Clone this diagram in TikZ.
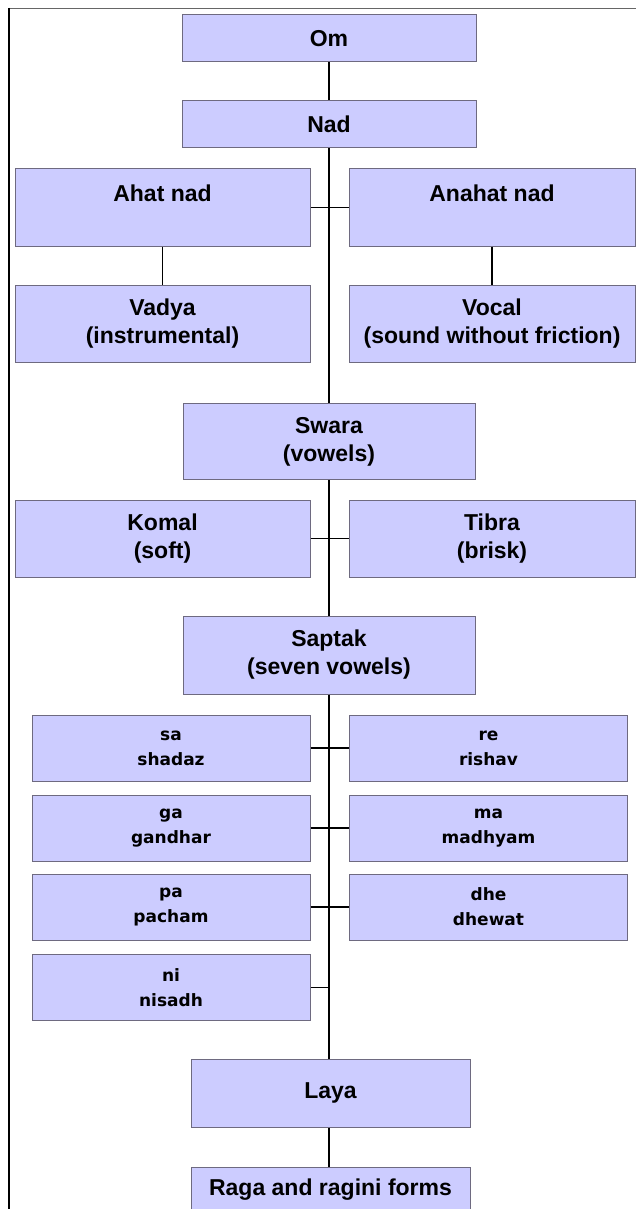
\documentclass[tikz,border=0pt]{standalone}
\usepackage{fontspec}
\setmainfont{Liberation Sans}
\newfontfamily\smallfam{DejaVu Sans}
\definecolor{boxfill}{HTML}{CCCCFF}
\definecolor{boxline}{HTML}{6E6A80}
\begin{document}
\begin{tikzpicture}[x=1pt,y=-1pt,
  bigbox/.style={draw=boxline,line width=1pt,fill=boxfill,inner sep=0pt,align=center,
    font=\fontsize{23}{28}\selectfont\bfseries},
  smallbox/.style={draw=boxline,line width=1pt,fill=boxfill,inner sep=0pt,align=center,
    minimum width=278pt,minimum height=66pt,font=\smallfam\fontsize{17}{25}\selectfont\bfseries},
  link/.style={draw=black,line width=1.2pt}]
\useasboundingbox (0,0) rectangle (635,1209);
\draw[line width=1.5pt,draw=black!60] (8,8.5) -- (640,8.5);
\draw[line width=1.5pt,draw=black] (9,8) -- (9,1215);

\node[bigbox,minimum width=294pt,minimum height=47pt] (om) at (329,38.5) {Om};
\node[bigbox,minimum width=294pt,minimum height=47pt] (nad) at (329,124.5) {Nad};
\node[bigbox,minimum width=295pt,minimum height=77pt] (ahat) at (162.5,207.5) {Ahat nad\\~};
\node[bigbox,minimum width=286pt,minimum height=77pt] (anahat) at (492,207.5) {Anahat nad\\~};
\node[bigbox,minimum width=295pt,minimum height=77pt] (vadya) at (162.5,323.5) {Vadya\\(instrumental)};
\node[bigbox,minimum width=286pt,minimum height=77pt] (vocal) at (492,323.5) {Vocal\\(sound without friction)};
\node[bigbox,minimum width=292pt,minimum height=76pt] (swara) at (329,441.5) {Swara\\(vowels)};
\node[bigbox,minimum width=295pt,minimum height=77pt] (komal) at (162.5,538.5) {Komal\\(soft)};
\node[bigbox,minimum width=286pt,minimum height=77pt] (tibra) at (492,538.5) {Tibra\\(brisk)};
\node[bigbox,minimum width=292pt,minimum height=78pt] (saptak) at (329,655) {Saptak\\(seven vowels)};

\node[smallbox] (sa) at (171,748) {sa\\shadaz};
\node[smallbox] (re) at (488.5,748) {re\\rishav};
\node[smallbox] (ga) at (171,828) {ga\\gandhar};
\node[smallbox] (ma) at (488.5,828) {ma\\madhyam};
\node[smallbox] (pa) at (171,907) {pa\\pacham};
\node[smallbox] (dhe) at (488.5,907) {dhe\\dhewat};
\node[smallbox] (ni) at (171,987.5) {ni\\nisadh};

\node[bigbox,minimum width=279pt,minimum height=68pt] (laya) at (330.5,1093) {Laya};
\node[bigbox,minimum width=279pt,minimum height=68pt] (raga) at (330.5,1201) {Raga and ragini forms\\~};

\coordinate (nispine) at (329,987.5);

\path[link] (om.south) -- (nad.north);
\path[link] (nad.south) -- (nad.south |- swara.north);
\path[link] (ahat.east) -- (anahat.west);
\path[link] (ahat.south) -- (vadya.north);
\path[link] (anahat.south) -- (vocal.north);
\path[link] (swara.south) -- (saptak.north);
\path[link] (komal.east) -- (tibra.west);
\path[link] (saptak.south) -- (saptak.south |- laya.north);
\path[link] (sa.east) -- (re.west);
\path[link] (ga.east) -- (ma.west);
\path[link] (pa.east) -- (dhe.west);
\path[link] (ni.east) -- (nispine);
\path[link] (laya.south -| saptak.south) -- (raga.north -| saptak.south);
\end{tikzpicture}
\end{document}
